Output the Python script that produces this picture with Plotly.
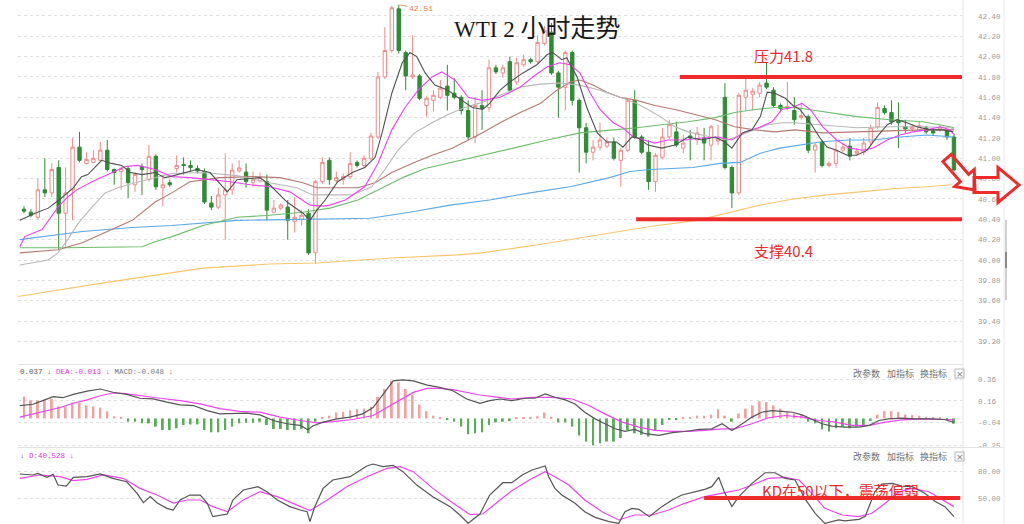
import numpy as np
import plotly.graph_objects as go

# ---------------- data ----------------
opens = [40.50, 40.47, 40.42, 40.69, 40.66, 40.91, 40.46, 40.69, 41.11, 40.95,
         40.96, 40.98, 41.08, 40.89, 40.87, 40.90, 40.74, 40.92, 40.79, 41.02,
         40.71, 40.76, 40.90, 40.94, 40.93, 40.90, 40.87, 40.56, 40.52, 40.64,
         40.69, 40.875, 40.865, 40.76, 40.78, 40.77, 40.47, 40.51, 40.52, 40.38,
         40.40, 40.46, 40.07, 40.77, 40.98, 40.78, 40.79, 40.82, 40.96, 40.93,
         41.00, 41.21, 41.80, 42.06, 42.47, 42.04, 41.80, 41.81, 41.52, 41.57,
         41.60, 41.71, 41.64, 41.60, 41.47, 41.21, 41.52, 41.50, 41.89, 41.84,
         41.95, 41.75, 41.92, 41.97, 41.95, 42.13, 42.24, 41.84, 41.70, 42.04,
         41.57, 41.30, 41.06, 41.11, 41.12, 41.16, 40.98, 41.08, 41.57, 41.21,
         41.06, 40.77, 41.01, 41.21, 41.26, 41.10, 41.22, 41.18, 41.20, 41.13,
         41.17, 41.60, 40.91, 40.66, 41.60, 41.63, 41.64, 41.74, 41.67, 41.52,
         41.49, 41.47, 41.40, 41.41, 41.08, 41.16, 40.93, 40.95, 41.08, 41.12,
         41.05, 41.06, 41.16, 41.31, 41.49, 41.45, 41.37, 41.31, 41.29, 41.28,
         41.30, 41.27, 41.28, 41.27, 41.21]
highs = [40.53, 40.50, 40.80, 41.00, 40.95, 40.98, 40.91, 41.20, 41.26, 41.06,
         41.08, 41.16, 41.18, 40.90, 40.92, 40.92, 40.86, 40.95, 41.13, 41.04,
         40.84, 40.79, 41.03, 41.01, 40.98, 40.93, 40.90, 40.63, 40.71, 41.05,
         40.95, 40.98, 40.95, 40.87, 40.86, 40.84, 40.59, 40.56, 40.59, 40.62,
         40.49, 40.50, 40.79, 41.01, 41.01, 40.87, 40.85, 41.06, 40.98, 41.03,
         41.25, 41.85, 42.29, 42.50, 42.51, 42.06, 42.21, 41.83, 41.61, 41.67,
         41.77, 41.92, 41.79, 41.62, 41.57, 41.60, 41.67, 41.97, 41.92, 41.92,
         42.00, 41.99, 42.02, 41.99, 42.21, 42.30, 42.33, 41.86, 42.06, 42.06,
         41.59, 41.35, 41.18, 41.35, 41.20, 41.20, 41.10, 41.59, 41.67, 41.23,
         41.18, 41.05, 41.30, 41.38, 41.36, 41.23, 41.28, 41.31, 41.30, 41.33,
         41.33, 41.74, 40.93, 41.64, 41.82, 41.69, 41.75, 41.94, 41.70, 41.54,
         41.75, 41.60, 41.55, 41.43, 41.15, 41.18, 40.97, 41.18, 41.14, 41.20,
         41.10, 41.20, 41.33, 41.55, 41.52, 41.57, 41.55, 41.38, 41.33, 41.36,
         41.32, 41.29, 41.33, 41.29, 41.23]
lows = [40.46, 40.42, 40.40, 40.62, 40.62, 40.10, 40.13, 40.39, 40.96, 40.94,
        40.95, 40.97, 40.87, 40.74, 40.69, 40.61, 40.67, 40.64, 40.77, 40.69,
        40.53, 40.72, 40.86, 40.84, 40.87, 40.85, 40.55, 40.49, 40.50, 40.20,
        40.64, 40.86, 40.71, 40.72, 40.76, 40.39, 40.46, 40.49, 40.20, 40.27,
        40.34, 40.05, 39.96, 40.75, 40.74, 40.76, 40.74, 40.80, 40.91, 40.91,
        40.98, 41.19, 41.78, 42.04, 42.03, 41.67, 41.78, 41.57, 41.41, 41.46,
        41.58, 41.47, 41.58, 41.43, 41.18, 41.15, 41.28, 41.46, 41.83, 41.79,
        41.65, 41.72, 41.90, 41.93, 41.93, 42.11, 41.82, 41.40, 41.47, 41.52,
        40.86, 40.95, 40.98, 41.08, 41.10, 40.98, 40.72, 41.06, 41.19, 41.04,
        40.69, 40.67, 40.99, 41.19, 41.11, 41.05, 40.98, 41.13, 40.98, 40.98,
        41.13, 40.89, 40.51, 40.64, 41.47, 41.47, 41.60, 41.68, 41.50, 41.45,
        41.47, 41.33, 41.38, 41.05, 40.86, 40.91, 40.91, 40.91, 41.06, 40.98,
        41.03, 41.03, 41.13, 41.29, 41.43, 41.33, 41.10, 41.25, 41.27, 41.26,
        41.24, 41.22, 41.26, 41.18, 40.87]
closes = [40.48, 40.44, 40.69, 40.66, 40.89, 40.46, 40.66, 41.11, 40.98, 40.99,
          41.00, 41.08, 40.89, 40.86, 40.90, 40.76, 40.84, 40.89, 41.02, 40.72,
          40.74, 40.74, 40.93, 40.93, 40.91, 40.875, 40.57, 40.52, 40.64, 40.69,
          40.885, 40.905, 40.77, 40.79, 40.81, 40.49, 40.51, 40.54, 40.39, 40.42,
          40.44, 40.07, 40.77, 40.96, 40.79, 40.81, 40.82, 40.95, 40.93, 41.00,
          41.22, 41.80, 42.06, 42.48, 42.06, 41.81, 41.82, 41.59, 41.59, 41.62,
          41.69, 41.62, 41.60, 41.47, 41.21, 41.52, 41.49, 41.89, 41.85, 41.89,
          41.67, 41.94, 41.97, 41.95, 42.14, 42.26, 41.84, 41.70, 42.04, 41.57,
          41.30, 41.06, 41.11, 41.18, 41.16, 41.00, 41.08, 41.57, 41.21, 41.06,
          40.77, 41.03, 41.21, 41.33, 41.13, 41.15, 41.20, 41.25, 41.15, 41.31,
          41.19, 40.91, 40.66, 41.62, 41.67, 41.66, 41.72, 41.70, 41.52, 41.49,
          41.51, 41.38, 41.42, 41.08, 41.13, 40.93, 40.95, 41.08, 41.11, 41.02,
          41.07, 41.15, 41.30, 41.50, 41.45, 41.36, 41.35, 41.29, 41.31, 41.32,
          41.26, 41.25, 41.30, 41.21, 40.885]

# moving averages: (bar index, price) samples
ma5 = [(-0.6, 40.39), (1.6, 40.46), (3.5, 40.51), (5.4, 40.61), (7.1, 40.71), (8.3, 40.82), (9.2, 40.84),
       (11.2, 40.98), (12.6, 40.95), (14.1, 40.93), (15.3, 40.86), (17.0, 40.84), (18.9, 40.86), (20.3, 40.81),
       (21.0, 40.82), (24.9, 40.89), (26.8, 40.86), (29.3, 40.67), (30.7, 40.79), (34.0, 40.81), (35.4, 40.74),
       (37.9, 40.57), (40.2, 40.46), (41.2, 40.39), (42.2, 40.49), (43.4, 40.59), (45.2, 40.77), (47.3, 40.86),
       (49.1, 40.91), (50.6, 41.01), (51.6, 41.25), (53.0, 41.64), (54.5, 41.94), (55.6, 42.04), (56.6, 42.00),
       (57.8, 41.84), (59.2, 41.72), (61.1, 41.67), (63.1, 41.57), (64.6, 41.50), (66.1, 41.48), (67.1, 41.54),
       (68.6, 41.67), (70.0, 41.75), (71.9, 41.84), (73.9, 41.92), (75.4, 42.02), (76.2, 42.04), (77.5, 41.97),
       (78.2, 41.99), (79.7, 41.80), (81.1, 41.50), (82.6, 41.25), (84.0, 41.16), (85.4, 41.16), (86.3, 41.11),
       (87.6, 41.21), (88.5, 41.20), (89.9, 41.13), (91.9, 41.10), (93.8, 41.13), (95.7, 41.21), (97.7, 41.18),
       (99.6, 41.21), (101.0, 41.16), (102.0, 41.10), (103.5, 41.25), (104.9, 41.28), (106.1, 41.41),
       (107.1, 41.65), (108.2, 41.64), (109.7, 41.59), (110.8, 41.52), (111.8, 41.48), (113.3, 41.35),
       (114.7, 41.20), (115.7, 41.11), (117.1, 41.08), (118.6, 41.03), (120.0, 41.03), (121.5, 41.08),
       (122.9, 41.21), (124.4, 41.33), (125.8, 41.38), (127.2, 41.35), (128.7, 41.31), (130.5, 41.28),
       (132.4, 41.28), (133.9, 41.26)]
ma10 = [(-0.6, 40.13), (0.1, 40.23), (2.6, 40.30), (4.9, 40.52), (6.3, 40.62), (7.6, 40.69), (9.8, 40.77),
        (12.1, 40.84), (14.6, 40.92), (16.4, 40.93), (18.9, 40.89), (21.3, 40.82), (23.9, 40.81), (26.8, 40.79),
        (29.7, 40.77), (32.6, 40.74), (35.4, 40.72), (38.3, 40.67), (41.2, 40.54), (43.1, 40.53), (44.1, 40.54),
        (46.3, 40.59), (49.1, 40.72), (51.0, 40.95), (53.0, 41.28), (54.9, 41.50), (56.8, 41.67), (58.8, 41.80),
        (60.2, 41.85), (62.1, 41.77), (64.0, 41.60), (66.0, 41.57), (68.6, 41.60), (71.5, 41.70), (73.3, 41.80),
        (75.4, 41.90), (77.2, 41.94), (78.7, 41.92), (80.1, 41.84), (81.6, 41.64), (83.0, 41.48), (84.9, 41.35),
        (86.3, 41.30), (87.8, 41.21), (90.9, 41.15), (92.8, 41.18), (95.2, 41.18), (97.7, 41.20), (100.0, 41.21),
        (102.0, 41.18), (103.9, 41.26), (105.8, 41.30), (107.8, 41.36), (109.2, 41.48), (110.7, 41.50),
        (112.1, 41.54), (113.3, 41.48), (115.1, 41.31), (117.1, 41.18), (119.0, 41.10), (120.9, 41.08),
        (122.3, 41.10), (124.4, 41.18), (126.2, 41.23), (128.1, 41.26), (130.1, 41.28), (132.0, 41.31),
        (133.4, 41.28), (134.1, 41.23)]
ma20 = [(-0.6, 39.95), (3.5, 40.00), (4.9, 40.07), (6.3, 40.20), (7.8, 40.36), (9.8, 40.52), (11.7, 40.66),
        (13.5, 40.71), (16.0, 40.76), (18.9, 40.81), (21.3, 40.85), (25.8, 40.86), (30.7, 40.83), (35.4, 40.76),
        (39.3, 40.71), (41.6, 40.64), (44.1, 40.64), (47.3, 40.64), (50.1, 40.72), (52.0, 40.89), (53.9, 41.08),
        (56.3, 41.25), (58.8, 41.35), (61.1, 41.43), (63.5, 41.50), (66.0, 41.55), (68.6, 41.62), (71.5, 41.70),
        (74.4, 41.73), (77.2, 41.74), (80.1, 41.72), (83.0, 41.67), (85.9, 41.60), (88.3, 41.54), (89.9, 41.48),
        (91.9, 41.40), (93.8, 41.31), (95.7, 41.26), (97.7, 41.23), (99.6, 41.20), (101.4, 41.18), (103.5, 41.23),
        (105.3, 41.28), (107.2, 41.33), (109.2, 41.35), (111.1, 41.35), (115.1, 41.33), (120.0, 41.30),
        (124.8, 41.31), (129.5, 41.31), (133.4, 41.30), (134.0, 41.29)]
ma30 = [(-0.6, 40.07), (4.9, 40.10), (8.4, 40.17), (12.1, 40.28), (15.6, 40.39), (18.9, 40.57), (21.3, 40.66),
        (23.9, 40.77), (28.2, 40.81), (33.0, 40.82), (36.9, 40.81), (40.2, 40.76), (42.2, 40.71), (44.1, 40.71),
        (48.1, 40.71), (50.6, 40.76), (53.0, 40.86), (55.9, 40.95), (58.8, 41.03), (61.7, 41.10), (63.5, 41.16),
        (66.0, 41.25), (68.6, 41.35), (71.5, 41.45), (74.4, 41.54), (76.8, 41.67), (78.7, 41.75), (80.1, 41.77),
        (82.0, 41.72), (84.0, 41.65), (85.9, 41.60), (88.3, 41.57), (90.9, 41.52), (93.8, 41.48), (96.7, 41.43),
        (99.6, 41.38), (102.4, 41.31), (105.3, 41.28), (108.2, 41.26), (111.1, 41.28), (115.1, 41.25),
        (120.0, 41.26), (124.8, 41.27), (129.5, 41.28), (133.4, 41.28), (134.0, 41.28)]
ma60 = [(-0.6, 40.12), (5.9, 40.12), (17.0, 40.13), (18.9, 40.18), (21.3, 40.23), (25.8, 40.34), (30.7, 40.42),
        (35.4, 40.44), (40.2, 40.47), (44.1, 40.51), (48.1, 40.59), (52.0, 40.72), (54.9, 40.82), (57.8, 40.90),
        (61.7, 40.96), (66.0, 41.03), (70.5, 41.10), (75.4, 41.18), (80.1, 41.25), (84.9, 41.28), (88.3, 41.30),
        (91.9, 41.33), (95.7, 41.36), (99.6, 41.40), (102.4, 41.45), (105.3, 41.48), (108.2, 41.50),
        (111.1, 41.50), (115.1, 41.46), (120.0, 41.41), (124.8, 41.38), (129.5, 41.36), (133.4, 41.31),
        (134.0, 41.30)]
ma120 = [(-0.6, 40.20), (8.4, 40.28), (15.6, 40.32), (21.3, 40.34), (30.7, 40.39), (44.1, 40.40), (49.9, 40.41),
         (55.6, 40.47), (61.4, 40.54), (67.1, 40.59), (72.9, 40.66), (78.7, 40.72), (84.4, 40.81), (87.3, 40.87),
         (90.2, 40.89), (96.4, 40.91), (100.3, 40.95), (103.2, 40.96), (106.1, 41.05), (108.9, 41.10),
         (111.8, 41.13), (114.7, 41.16), (118.6, 41.18), (122.3, 41.18), (126.2, 41.21), (130.1, 41.23),
         (134.0, 41.21)]
ma250 = [(-0.9, 39.64), (11.0, 39.77), (25.8, 39.92), (35.4, 39.96), (42.2, 39.97), (53.0, 40.02), (62.5, 40.05),
         (66.0, 40.07), (75.0, 40.16), (83.0, 40.25), (90.2, 40.33), (97.0, 40.39), (101.3, 40.46), (106.1, 40.54),
         (110.8, 40.60), (115.7, 40.64), (120.5, 40.67), (125.2, 40.70), (130.1, 40.72), (133.7, 40.74)]

# MACD panel
macd_hist = [0.20, 0.165, 0.165, 0.17, 0.18, 0.11, 0.11, 0.145, 0.145, 0.12,
             0.11, 0.10, 0.065, 0.02, 0.004, -0.03, -0.03, -0.045, -0.045, -0.075,
             -0.106, -0.106, -0.09, -0.06, -0.055, -0.055, -0.106, -0.127, -0.127, -0.106,
             -0.075, -0.045, -0.04, -0.04, -0.03, -0.06, -0.097, -0.097, -0.106, -0.106,
             -0.097, -0.136, -0.03, 0.005, 0.025, 0.055, 0.06, 0.075, 0.085, 0.09,
             0.106, 0.197, 0.27, 0.345, 0.33, 0.27, 0.218, 0.127, 0.067, 0.025,
             0.005, -0.015, -0.03, -0.075, -0.145, -0.136, -0.127, -0.06, -0.036, -0.03,
             -0.024, 0.004, 0.004, 0.005, 0.02, 0.055, 0.005, -0.036, -0.036, -0.075,
             -0.157, -0.212, -0.248, -0.227, -0.212, -0.212, -0.18, -0.106, -0.136, -0.15,
             -0.167, -0.115, -0.06, -0.015, -0.015, 0.004, 0.01, 0.025, 0.025, 0.035,
             0.085, 0.025, -0.03, 0.045, 0.09, 0.12, 0.157, 0.15, 0.12, 0.09,
             0.067, 0.045, 0.03, -0.03, -0.045, -0.10, -0.12, -0.09, -0.075, -0.09,
             -0.075, -0.06, -0.024, 0.035, 0.067, 0.067, 0.06, 0.035, 0.03, 0.025,
             0.015, 0.01, 0.005, -0.01, -0.048]
dif = [(-0.6, 0.117), (1.3, 0.13), (2.7, 0.163), (4.2, 0.20), (5.6, 0.19), (7.1, 0.22), (9.1, 0.25), (11.0, 0.27),
       (12.8, 0.24), (14.8, 0.22), (16.7, 0.185), (18.6, 0.18), (20.6, 0.15), (22.5, 0.125), (24.4, 0.118),
       (26.4, 0.072), (28.2, 0.042), (30.1, 0.048), (32.1, 0.048), (34.0, 0.033), (35.9, -0.019), (37.9, -0.049),
       (39.8, -0.064), (40.9, -0.104), (41.6, -0.07), (43.1, -0.034), (45.1, -0.004), (47.0, 0.012),
       (48.8, 0.042), (50.3, 0.10), (51.7, 0.224), (53.2, 0.345), (54.6, 0.354), (56.1, 0.345), (58.1, 0.305),
       (59.9, 0.284), (61.8, 0.254), (63.8, 0.178), (65.7, 0.139), (67.1, 0.163), (68.6, 0.178), (70.3, 0.163),
       (72.2, 0.185), (73.6, 0.185), (75.1, 0.224), (76.5, 0.194), (78.0, 0.17), (79.4, 0.133), (80.8, 0.057),
       (82.3, -0.004), (83.7, -0.049), (85.2, -0.095), (86.6, -0.119), (88.0, -0.10), (89.5, -0.14),
       (91.5, -0.155), (93.4, -0.13), (95.2, -0.12), (97.3, -0.10), (99.1, -0.095), (100.6, -0.049),
       (102.0, -0.11), (103.5, -0.049), (104.9, 0.012), (106.3, 0.057), (107.8, 0.072), (109.2, 0.064),
       (110.7, 0.057), (112.1, 0.033), (113.5, -0.004), (115.0, -0.049), (116.4, -0.07), (118.3, -0.079),
       (120.3, -0.079), (121.8, -0.064), (123.2, -0.019), (124.6, -0.004), (126.5, 0.002), (128.4, -0.004),
       (130.8, -0.004), (132.7, -0.01), (134.0, -0.037)]
dea = [(-0.6, 0.012), (1.3, 0.042), (3.3, 0.072), (5.2, 0.10), (7.1, 0.139), (9.1, 0.17), (11.0, 0.208),
       (12.8, 0.233), (14.3, 0.23), (16.7, 0.208), (19.6, 0.185), (22.5, 0.163), (25.4, 0.133), (28.2, 0.09),
       (31.1, 0.064), (34.0, 0.057), (36.9, 0.012), (39.8, -0.019), (42.2, -0.04), (44.5, -0.03), (47.4, -0.01),
       (50.3, 0.027), (52.3, 0.10), (54.2, 0.163), (56.1, 0.239), (58.1, 0.275), (59.9, 0.275), (61.8, 0.264),
       (63.8, 0.239), (65.7, 0.215), (67.6, 0.20), (69.6, 0.185), (70.3, 0.178), (73.2, 0.194), (76.1, 0.194),
       (79.0, 0.178), (81.4, 0.118), (83.7, 0.042), (86.2, -0.034), (88.6, -0.079), (90.9, -0.11),
       (93.4, -0.119), (95.8, -0.119), (98.1, -0.11), (100.6, -0.095), (102.4, -0.095), (104.9, -0.049),
       (107.3, 0.006), (109.7, 0.027), (112.1, 0.012), (114.6, -0.019), (116.9, -0.034), (119.3, -0.064),
       (121.8, -0.064), (124.1, -0.034), (126.5, -0.013), (129.4, -0.004), (132.3, -0.01), (134.0, -0.013)]

# KD panel
kd_k = [(-0.6, 76.7), (1.3, 75.6), (2.0, 77.4), (3.3, 73.0), (4.2, 76.3), (4.9, 64.4), (6.1, 63.3), (7.1, 73.0),
        (9.1, 73.7), (11.0, 76.7), (12.8, 71.9), (14.8, 68.1), (16.3, 55.2), (17.2, 44.8), (18.2, 51.5),
        (19.2, 44.4), (20.6, 38.5), (21.5, 36.7), (22.5, 47.8), (23.9, 53.3), (25.4, 53.3), (26.4, 44.4),
        (27.2, 29.3), (29.3, 32.2), (30.1, 47.8), (31.6, 58.9), (33.7, 62.6), (35.0, 57.0), (36.5, 47.8),
        (38.3, 40.4), (39.8, 36.7), (40.8, 34.8), (41.2, 23.7), (41.9, 40.4), (43.1, 60.7), (44.5, 70.0),
        (47.0, 73.7), (49.4, 85.6), (50.3, 87.8), (51.7, 85.0), (53.2, 86.3), (54.6, 79.3), (56.6, 64.4),
        (58.9, 51.5), (61.4, 40.4), (62.8, 31.1), (64.0, 21.9), (65.7, 32.2), (67.1, 53.3), (69.0, 67.0),
        (70.3, 67.0), (71.8, 75.6), (73.2, 81.1), (75.1, 85.6), (75.6, 73.7), (76.5, 60.7), (77.5, 53.3),
        (79.4, 44.1), (80.8, 34.8), (82.3, 28.5), (84.3, 23.7), (85.7, 21.8), (86.6, 34.8), (87.6, 38.5),
        (88.6, 37.4), (90.1, 29.3), (91.9, 40.4), (93.4, 47.8), (94.8, 53.3), (96.7, 57.0), (98.1, 59.6),
        (99.1, 62.6), (100.1, 73.0), (100.9, 57.0), (102.0, 40.4), (103.0, 51.5), (104.9, 66.3), (106.8, 78.1),
        (108.2, 78.1), (109.7, 71.9), (111.1, 70.0), (112.5, 49.6), (114.0, 32.9), (115.4, 21.8), (117.4, 25.6),
        (118.3, 24.5), (120.3, 26.3), (121.2, 29.3), (122.6, 57.0), (123.6, 65.5), (125.1, 66.3), (126.5, 63.3),
        (128.0, 62.6), (129.8, 55.2), (131.3, 46.2), (132.7, 40.4), (134.0, 29.3)]
kd_d = [(-0.6, 71.9), (2.3, 75.6), (5.2, 73.7), (7.1, 69.3), (9.1, 70.7), (11.4, 75.6), (14.3, 71.9), (16.7, 60.7),
        (19.2, 53.3), (21.5, 44.4), (23.5, 47.8), (25.4, 47.8), (27.2, 40.4), (29.3, 34.8), (31.6, 47.8),
        (34.0, 57.0), (36.5, 51.5), (38.8, 44.1), (41.2, 36.0), (43.7, 47.8), (46.5, 62.6), (49.4, 73.7),
        (52.3, 83.0), (54.2, 84.8), (56.1, 79.3), (58.9, 60.7), (61.8, 44.4), (64.3, 31.5), (66.1, 32.2),
        (68.6, 47.8), (70.3, 58.1), (72.8, 70.0), (75.1, 79.3), (76.5, 73.7), (78.5, 64.4), (80.8, 47.8),
        (83.3, 34.8), (85.7, 25.6), (88.0, 31.1), (90.5, 31.1), (92.9, 36.7), (95.2, 44.1), (98.1, 51.5),
        (101.0, 55.9), (103.0, 58.9), (104.9, 64.4), (107.3, 71.9), (109.7, 73.0), (111.7, 70.0), (113.5, 55.2),
        (115.4, 38.5), (117.9, 31.1), (120.3, 29.3), (122.2, 33.0), (124.1, 44.1), (126.1, 57.0), (128.0, 60.7),
        (130.4, 57.0), (132.3, 47.8), (134.0, 40.4)]

resistance = 41.8
support = 40.4
kd_level = 50
peak_value = 42.51
peak_index = 54
price_ticks = [39.2, 39.4, 39.6, 39.8, 40.0, 40.2, 40.4, 40.6, 40.8, 41.0, 41.2, 41.4, 41.6, 41.8, 42.0, 42.2, 42.4]
macd_ticks = [0.36, 0.16, -0.04, -0.25]
kd_ticks = [80, 50]

# ---------------- geometry helpers (pixel -> paper) ----------------
W, H = 1024, 524
PL, PR = 18, 962


def px(xp):
    return (xp - PL) / (PR - PL)


def py(yp):
    return 1 - yp / H


def arrow_path(sx, sy, tx, ty, shaft_hw, head_hw, head_len):
    s = np.array([sx, sy], float)
    t = np.array([tx, ty], float)
    d = (t - s) / np.linalg.norm(t - s)
    n = np.array([-d[1], d[0]])
    b = t - d * head_len
    pts = [s + n * shaft_hw, b + n * shaft_hw, b + n * head_hw, t,
           b - n * head_hw, b - n * shaft_hw, s - n * shaft_hw]
    return "M " + " L ".join(f"{px(p[0]):.5f},{py(p[1]):.5f}" for p in pts) + " Z"


XR = [-0.865, 135.16]
idx = list(range(len(opens)))

fig = go.Figure()
fig.add_trace(go.Candlestick(
    x=idx, open=opens, high=highs, low=lows, close=closes,
    increasing=dict(line=dict(color='#f08a8a', width=1), fillcolor='#ffffff'),
    decreasing=dict(line=dict(color='#2f8b35', width=1), fillcolor='#2f8b35'),
    whiskerwidth=0, hoverinfo='skip', xaxis='x', yaxis='y'))

ma_styles = [(ma250, '#f9c56a'), (ma120, '#5aa9ea'), (ma60, '#6cbf6c'), (ma30, '#b67a70'),
             (ma20, '#b8b8b8'), (ma10, '#f040f0'), (ma5, '#505050')]
for pts, col in ma_styles:
    fig.add_trace(go.Scatter(x=[p[0] for p in pts], y=[p[1] for p in pts], mode='lines',
                             line=dict(color=col, width=1.1), hoverinfo='skip', xaxis='x', yaxis='y'))

fig.add_trace(go.Bar(x=idx, y=macd_hist, width=0.28,
                     marker=dict(color=['#f2a0a0' if v >= 0 else '#5aab5a' for v in macd_hist], line=dict(width=0)),
                     hoverinfo='skip', xaxis='x2', yaxis='y2'))
for pts, col in [(dea, '#ee44ee'), (dif, '#555555')]:
    fig.add_trace(go.Scatter(x=[p[0] for p in pts], y=[p[1] for p in pts], mode='lines',
                             line=dict(color=col, width=1.2), hoverinfo='skip', xaxis='x2', yaxis='y2'))
for pts, col in [(kd_d, '#ee44ee'), (kd_k, '#555555')]:
    fig.add_trace(go.Scatter(x=[p[0] for p in pts], y=[p[1] for p in pts], mode='lines',
                             line=dict(color=col, width=1.2), hoverinfo='skip', xaxis='x3', yaxis='y3'))

axis_x = dict(range=XR, showticklabels=False, showgrid=False, zeroline=False, showline=False,
              ticks='', fixedrange=True)
tick_font = dict(family='Liberation Mono, DejaVu Sans Mono, monospace', size=7.5, color='#9a9a9a')
axis_y = dict(side='right', showgrid=True, gridcolor='#e0e0e0', griddash='dot', gridwidth=1,
              zeroline=False, showline=False, ticks='', tickfont=tick_font, ticklabelstandoff=15,
              automargin=False, fixedrange=True)

fig.update_layout(
    width=W, height=H, margin=dict(l=PL, r=W - PR, t=0, b=0),
    paper_bgcolor='white', plot_bgcolor='white', showlegend=False, hovermode=False,
    xaxis=dict(axis_x, domain=[0, 1], anchor='y', rangeslider=dict(visible=False)),
    xaxis2=dict(axis_x, domain=[0, 1], anchor='y2'),
    xaxis3=dict(axis_x, domain=[0, 1], anchor='y3'),
    yaxis=dict(axis_y, domain=[py(363), 1], range=[38.987, 42.557], anchor='x',
               tickvals=price_ticks, ticktext=[f"{v:.2f}" for v in price_ticks]),
    yaxis2=dict(axis_y, domain=[py(447), py(365)], range=[-0.262, 0.49], anchor='x2',
                tickvals=macd_ticks, ticktext=[f"{v:.2f}" for v in macd_ticks]),
    yaxis3=dict(axis_y, domain=[0, py(448)], range=[21.1, 105.6], anchor='x3',
                tickvals=kd_ticks, ticktext=[f"{v:.2f}" for v in kd_ticks]),
)

RED = '#ee2a2a'
shapes = [
    dict(type='line', xref='paper', yref='paper', x0=px(963), x1=px(963), y0=0, y1=1,
         line=dict(color='#e2e2e2', width=1)),
    dict(type='line', xref='paper', yref='paper', x0=px(1004), x1=px(1004), y0=0, y1=1,
         line=dict(color='#e8e8e8', width=1)),
    dict(type='line', xref='paper', yref='paper', x0=px(18), x1=px(963), y0=py(364.5), y1=py(364.5),
         line=dict(color='#e2e2e2', width=1)),
    dict(type='line', xref='paper', yref='paper', x0=px(18), x1=px(1004), y0=py(447.5), y1=py(447.5),
         line=dict(color='#e2e2e2', width=1)),
    dict(type='line', xref='paper', yref='paper', x0=px(1006), x1=px(1006), y0=py(220), y1=py(300),
         line=dict(color='#cfcfcf', width=2)),
    dict(type='line', xref='paper', yref='paper', x0=px(1006), x1=px(1006), y0=py(252), y1=py(268),
         line=dict(color='#8a8a8a', width=2)),
    # resistance / support / KD 50 lines
    dict(type='line', xref='x', yref='y', x0=94.5, x1=135.3, y0=resistance, y1=resistance,
         line=dict(color=RED, width=4)),
    dict(type='line', xref='x', yref='y', x0=88.2, x1=135.3, y0=support, y1=support,
         line=dict(color=RED, width=4)),
    dict(type='line', xref='x3', yref='y3', x0=98.0, x1=134.9, y0=kd_level, y1=kd_level,
         line=dict(color=RED, width=4)),
    # hollow arrows
    dict(type='path', xref='paper', yref='paper', path=arrow_path(947, 158, 975, 190, 5.5, 13, 16),
         line=dict(color=RED, width=3), fillcolor='rgba(0,0,0,0)'),
    dict(type='path', xref='paper', yref='paper', path=arrow_path(974, 185, 1019, 185, 7.5, 17.5, 21),
         line=dict(color=RED, width=3), fillcolor='rgba(0,0,0,0)'),
]
for yc in (373.5, 456.5):
    shapes.append(dict(type='rect', xref='paper', yref='paper', x0=px(955), x1=px(964),
                       y0=py(yc + 4.5), y1=py(yc - 4.5), line=dict(color='#b5b5b5', width=1)))
fig.update_layout(shapes=shapes)

cjk = 'Noto Sans CJK SC, Noto Sans, sans-serif'
mono = 'Liberation Mono, DejaVu Sans Mono, monospace'
title_text = ('<span style="font-family:Liberation Serif;font-size:23px">WTI 2 </span>'
              '<span style="font-family:Noto Sans CJK SC;font-size:25px">小时走势</span>')
ann = [
    dict(text=title_text, xref='paper', yref='paper', x=px(537), y=py(26), xanchor='center', yanchor='middle',
         showarrow=False, font=dict(family='Liberation Serif, Noto Sans CJK SC, serif', size=24, color='#1a1a1a')),
    dict(text='压力41.8', xref='x', yref='y', x=109.4, y=42.016, showarrow=False,
         font=dict(family=cjk, size=15, color=RED)),
    dict(text='支撑40.4', xref='x', yref='y', x=109.4, y=40.089, showarrow=False,
         font=dict(family=cjk, size=15, color=RED)),
    dict(text='KD在50以下，震荡偏弱', xref='x3', yref='y3', x=117.6, y=58.9, showarrow=False,
         font=dict(family=cjk, size=15, color=RED)),
    dict(text=f'{peak_value:.2f}', xref='x', yref='y', x=peak_index, y=peak_value, ax=22, ay=4,
         showarrow=True, arrowhead=0, arrowwidth=0.8, arrowcolor='#f07848', standoff=1,
         font=dict(family=mono, size=8, color='#f07848')),
    dict(text='<span style="color:#555555">0.037 ↓</span> <span style="color:#e030e0">DEA:-0.013 ↓</span>'
              ' <span style="color:#777777">MACD:-0.048 ↓</span>',
         xref='paper', yref='paper', x=px(18), y=py(372), xanchor='left', yanchor='middle',
         showarrow=False, font=dict(family=mono, size=7.5)),
    dict(text='<span style="color:#555555">↓</span> <span style="color:#e030e0">D:40.528 ↓</span>',
         xref='paper', yref='paper', x=px(18), y=py(456), xanchor='left', yanchor='middle',
         showarrow=False, font=dict(family=mono, size=7.5)),
]
for yc in (373.5, 456.5):
    for label, xc in (('改参数', 866.5), ('加指标', 900.5), ('换指标', 933.5)):
        ann.append(dict(text=label, xref='paper', yref='paper', x=px(xc), y=py(yc),
                        xanchor='center', yanchor='middle', showarrow=False,
                        font=dict(family=cjk, size=9, color='#707070')))
    ann.append(dict(text='×', xref='paper', yref='paper', x=px(959.5), y=py(yc),
                    xanchor='center', yanchor='middle', showarrow=False,
                    font=dict(family='DejaVu Sans, sans-serif', size=9, color='#777777')))
fig.update_layout(annotations=ann)

fig.write_html("out.html", config={'displayModeBar': False},
               post_script="document.body.style.margin='0px';document.body.style.overflow='hidden';")
